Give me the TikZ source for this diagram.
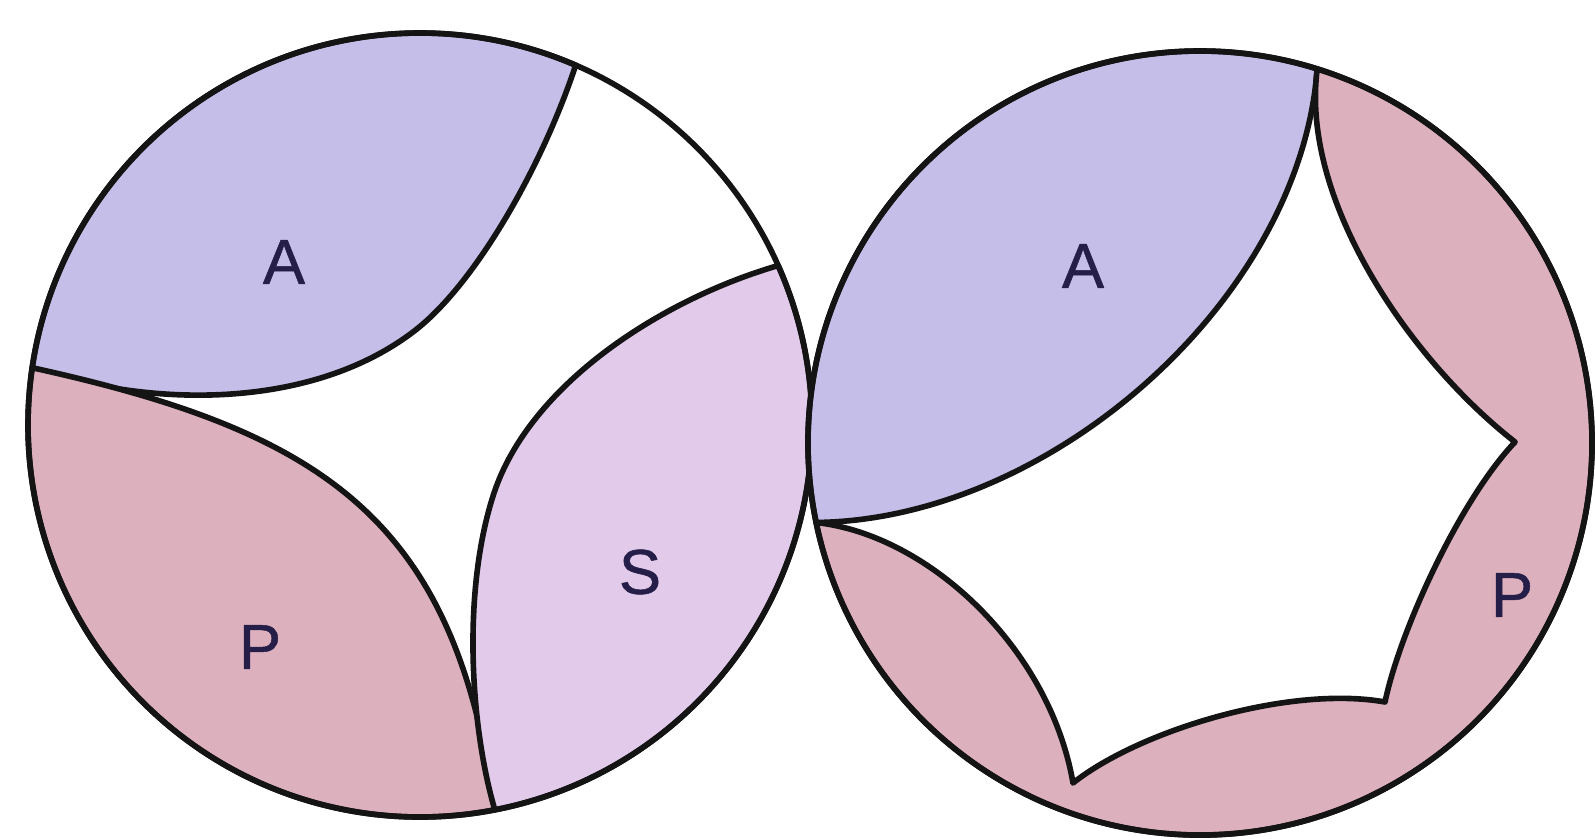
\documentclass[tikz,border=0pt]{standalone}
\usepackage{fontspec}
\newfontfamily\lblfont[FakeBold=0.8]{Liberation Sans}
\usepackage{tikz}
\usetikzlibrary{calc}
\definecolor{aortic}{RGB}{196,190,232}
\definecolor{postc}{RGB}{221,176,190}
\definecolor{septc}{RGB}{226,202,234}
\definecolor{ink}{RGB}{36,30,72}

\begin{document}
\begin{tikzpicture}[x=.025cm,y=-.025cm,line cap=round,line join=round,
  edge/.style={line width=4pt,black!92},
  lbl/.style={font=\fontsize{45}{45}\lblfont,text=ink,inner sep=0pt}]
\useasboundingbox(0,0)rectangle(1595,840);
% left valve: three leaflets
\coordinate(L)at(420,425);
\coordinate(J1)at($(L)+(-66.6:392)$);
\coordinate(J2)at($(L)+(-24:392)$);
\coordinate(J3)at($(L)+(79:392)$);
\coordinate(J4)at($(L)+(188.4:392)$);
\coordinate(M1)at(413,332);
\coordinate(M2)at(494,493);
\filldraw[edge,fill=aortic](J4)arc[start angle=188.4,end angle=293.4,radius=392]
  ..controls(541,170)and(473,287)..(M1)..controls(310,410)and(150,408)..(J4)--cycle;
\filldraw[edge,fill=postc](J3)arc[start angle=79,end angle=188.4,radius=392]
  ..controls(325,432)and(455,520)..(J3)--cycle;
\filldraw[edge,fill=septc](J2)arc[start angle=-24,end angle=79,radius=392]
  ..controls(470,725)and(462,590)..(M2)..controls(530,385)and(660,300)..(J2)--cycle;
\draw[edge](L)circle[radius=392];
\node[lbl](la1)at(284,262){A};
\node[lbl](lp1)at(260,647){P};
\node[lbl](ls1)at(640,572){S};
% right valve: two leaflets
\coordinate(R)at(1200,443);
\coordinate(K1)at($(R)+(-72.6:392)$);
\coordinate(K2)at($(R)+(168.3:392)$);
\coordinate(c1)at(1515,442);
\coordinate(c2)at(1385,702);
\coordinate(c3)at(1073,783);
\filldraw[edge,fill=aortic](K2)arc[start angle=168.3,end angle=287.4,radius=392]
  ..controls(1300,300)and(1050,520)..(K2)--cycle;
\filldraw[edge,fill=postc](K1)arc[start angle=-72.6,end angle=168.3,radius=392]
  ..controls(930,535)and(1050,650)..(c3)
  ..controls(1140,730)and(1290,685)..(c2)
  ..controls(1400,630)and(1460,500)..(c1)
  ..controls(1410,360)and(1300,200)..(K1)--cycle;
\draw[edge](R)circle[radius=392];
\node[lbl](la2)at(1083,266){A};
\node[lbl](lp2)at(1512,595){P};
\end{tikzpicture}
\end{document}
